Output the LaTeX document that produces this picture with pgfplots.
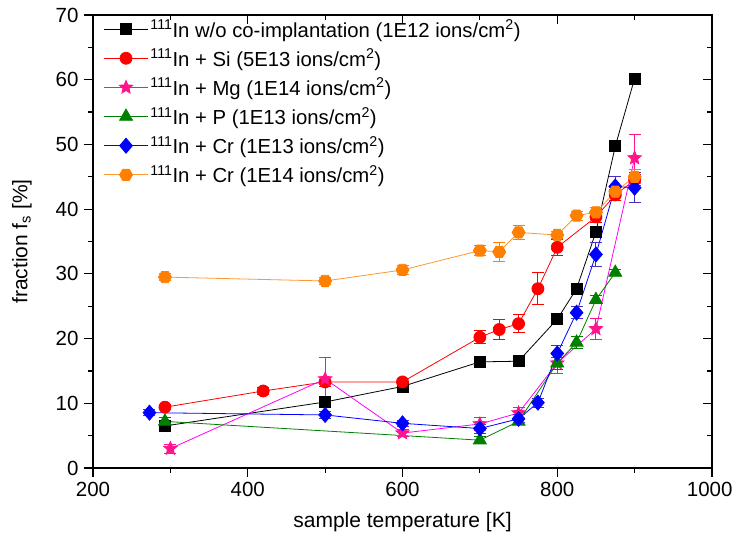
\documentclass[border=0pt]{standalone}
\usepackage{fontspec}
\setmainfont{Liberation Sans}
\usepackage{pgfplots}
\pgfplotsset{compat=1.18}

\definecolor{cpink}{RGB}{255,20,140}
\definecolor{cmag}{RGB}{255,0,255}
\definecolor{cgreen}{RGB}{0,128,0}
\definecolor{cblue}{RGB}{0,0,255}
\definecolor{cblueerr}{RGB}{70,50,190}
\definecolor{corange}{RGB}{255,128,0}
\definecolor{corangel}{RGB}{255,150,50}

\pgfdeclareplotmark{hexagon*}{%
  \pgfpathmoveto{\pgfpointpolar{0}{\pgfplotmarksize}}%
  \pgfpathlineto{\pgfpointpolar{60}{\pgfplotmarksize}}%
  \pgfpathlineto{\pgfpointpolar{120}{\pgfplotmarksize}}%
  \pgfpathlineto{\pgfpointpolar{180}{\pgfplotmarksize}}%
  \pgfpathlineto{\pgfpointpolar{240}{\pgfplotmarksize}}%
  \pgfpathlineto{\pgfpointpolar{300}{\pgfplotmarksize}}%
  \pgfpathclose
  \pgfusepathqfillstroke
}
\pgfdeclareplotmark{fstar}{%
  \pgfpathmoveto{\pgfpointpolar{90}{\pgfplotmarksize}}%
  \pgfpathlineto{\pgfpointpolar{126}{0.45\pgfplotmarksize}}%
  \pgfpathlineto{\pgfpointpolar{162}{\pgfplotmarksize}}%
  \pgfpathlineto{\pgfpointpolar{198}{0.45\pgfplotmarksize}}%
  \pgfpathlineto{\pgfpointpolar{234}{\pgfplotmarksize}}%
  \pgfpathlineto{\pgfpointpolar{270}{0.45\pgfplotmarksize}}%
  \pgfpathlineto{\pgfpointpolar{306}{\pgfplotmarksize}}%
  \pgfpathlineto{\pgfpointpolar{342}{0.45\pgfplotmarksize}}%
  \pgfpathlineto{\pgfpointpolar{18}{\pgfplotmarksize}}%
  \pgfpathlineto{\pgfpointpolar{54}{0.45\pgfplotmarksize}}%
  \pgfpathclose
  \pgfusepathqfillstroke
}
\pgfdeclareplotmark{fdiamond}{%
  \pgfpathmoveto{\pgfqpoint{0pt}{\pgfplotmarksize}}%
  \pgfpathlineto{\pgfqpoint{-0.85\pgfplotmarksize}{0pt}}%
  \pgfpathlineto{\pgfqpoint{0pt}{-\pgfplotmarksize}}%
  \pgfpathlineto{\pgfqpoint{0.85\pgfplotmarksize}{0pt}}%
  \pgfpathclose
  \pgfusepathqfillstroke
}

\begin{document}
\begin{tikzpicture}
\path[use as bounding box] (-93pt,-69pt) rectangle (640pt,468pt);
\begin{axis}[
  at={(0pt,0pt)}, anchor=south west,
  scale only axis, width=619pt, height=453pt,
  xmin=200, xmax=1000, ymin=0, ymax=70,
  xtick={200,400,...,1000}, minor xtick={300,500,700,900},
  xticklabels={200,400,600,800,\hspace*{-4.5pt}1000},
  ytick={0,10,...,70}, minor ytick={5,15,...,65},
  /pgf/number format/assume math mode=true,
  /pgf/number format/1000 sep={},
  tick align=outside, tick pos=left,
  major tick length=9pt, minor tick length=5pt,
  axis line style={line width=1.5pt},
  every tick/.style={black, line width=1.2pt},
  tick label style={font=\fontsize{20.5}{24}\selectfont},
  xticklabel style={yshift=-2pt},
  yticklabel style={xshift=-2pt},
  label style={font=\fontsize{21}{25}\selectfont},
  xlabel={sample temperature [K]},
  ylabel={fraction f\textsubscript{s} [\%]},
  xlabel style={at={(axis description cs:0.5,-0.1192)}, anchor=center},
  ylabel style={at={(axis description cs:-0.1147,0.5)}, anchor=center},
  legend cell align=left,
  legend style={draw=none, fill=none, at={(axis description cs:0.012,0.999)}, anchor=north west,
    font=\fontsize{20.3}{24}\selectfont, row sep=6.2pt,
    nodes={inner sep=2pt}},
  legend image code/.code={\draw[mark repeat=2,mark phase=2] plot coordinates {(0pt,0pt) (22pt,0pt) (44pt,0pt)};},
  error bars/error bar style={line width=0.9pt},
  error bars/error mark options={rotate=90, mark size=6pt, line width=0.9pt},
]
% black
\addplot[black, line width=0.8pt, mark=square*, mark size=5.5pt, mark options={solid},
  error bars/.cd, y dir=both, y explicit]
  coordinates {(293,6.5)+-(0,0.5) (500,10.2)+-(0,0.5) (600,12.6)+-(0,0.6) (700,16.4)+-(0,0.5)
   (750,16.5)+-(0,0.4) (800,23.0)+-(0,0.6) (825,27.7)+-(0,0.4) (850,36.5)+-(0,0.5)
   (875,49.7)+-(0,0.5) (900,60.2)+-(0,0.5)};
\addlegendentry{\textsuperscript{111}In w/o co-implantation (1E12 ions/cm\textsuperscript{2})}
% red
\addplot[red, line width=0.8pt, mark=*, mark size=6pt,
  error bars/.cd, y dir=both, y explicit]
  coordinates {(293,9.4)+-(0,0.4) (420,11.9)+-(0,0.5) (500,13.3)+-(0,0.7) (600,13.3)+-(0,0.5)
   (700,20.2)+-(0,1.0) (725,21.4)+-(0,1.6) (750,22.3)+-(0,1.35) (775,27.7)+-(0,2.5)
   (800,34.1)+-(0,1.2) (850,38.8)+-(0,0.8) (875,42.2)+-(0,0.8) (900,44.5)+-(0,0.8)};
\addlegendentry{\textsuperscript{111}In + Si (5E13 ions/cm\textsuperscript{2})}
% magenta
\addplot[cmag, line width=0.8pt, mark=fstar, mark size=7pt, mark options={cpink},
  error bars/.cd, y dir=both, y explicit, error bar style={cpink, line width=0.9pt},
  error mark options={cpink, rotate=90, mark size=6pt, line width=0.9pt}]
  coordinates {(300,3.0)+-(0,0.7) (500,13.75)+-(0,3.35) (600,5.4)+-(0,0.5) (700,6.8)+-(0,1.0)
   (750,8.5)+-(0,0.9) (800,16.2)+-(0,1.6) (850,21.5)+-(0,1.6) (900,47.9)+-(0,3.7)};
\addlegendentry{\textsuperscript{111}In + Mg (1E14 ions/cm\textsuperscript{2})}
% green
\addplot[cgreen, line width=0.8pt, mark=triangle*, mark size=7.5pt,
  error bars/.cd, y dir=both, y explicit]
  coordinates {(293,7.2)+-(0,0.6) (700,4.3)+-(0,0.5) (750,7.2)+-(0,0.5) (800,16.2)+-(0,0.9)
   (825,19.4)+-(0,1.0) (850,26.0)+-(0,0.6) (875,30.2)+-(0,0.5)};
\addlegendentry{\textsuperscript{111}In + P (1E13 ions/cm\textsuperscript{2})}
% blue
\addplot[cblue, line width=0.8pt, mark=fdiamond, mark size=7.5pt,
  error bars/.cd, y dir=both, y explicit, error bar style={cblueerr, line width=0.9pt},
  error mark options={cblueerr, rotate=90, mark size=6pt, line width=0.9pt}]
  coordinates {(273,8.55)+-(0,0.5) (500,8.2)+-(0,0.5) (600,6.9)+-(0,0.5) (700,6.1)+-(0,0.7)
   (750,7.6)+-(0,0.6) (775,10.1)+-(0,0.7) (800,17.7)+-(0,1.2) (825,24.0)+-(0,0.9)
   (850,33.0)+-(0,1.8) (875,43.5)+-(0,1.5) (900,43.3)+-(0,2.3)};
\addlegendentry{\textsuperscript{111}In + Cr (1E13 ions/cm\textsuperscript{2})}
% orange
\addplot[corangel, line width=0.8pt, mark=hexagon*, mark size=6.5pt, mark options={corange},
  error bars/.cd, y dir=both, y explicit, error bar style={corange, line width=0.9pt},
  error mark options={corange, rotate=90, mark size=6pt, line width=0.9pt}]
  coordinates {(293,29.5)+-(0,0.5) (500,28.9)+-(0,0.5) (600,30.6)+-(0,0.7) (700,33.6)+-(0,0.8)
   (725,33.4)+-(0,1.5) (750,36.4)+-(0,1.1) (800,36.0)+-(0,0.6) (825,39.0)+-(0,0.7)
   (850,39.5)+-(0,0.8) (875,42.7)+-(0,0.8) (900,45.0)+-(0,1.1)};
\addlegendentry{\textsuperscript{111}In + Cr (1E14 ions/cm\textsuperscript{2})}
\end{axis}
\begin{axis}[
  at={(0pt,0pt)}, anchor=south west,
  scale only axis, width=619pt, height=453pt,
  xmin=200, xmax=1000, ymin=0, ymax=70,
  xtick={200,400,...,1000}, minor xtick={300,500,700,900},
  ytick={0,10,...,70}, minor ytick={5,15,...,65},
  xticklabels={}, yticklabels={},
  tick align=inside, tick pos=right,
  major tick length=9pt, minor tick length=5pt,
  axis line style={line width=1.5pt},
  every tick/.style={black, line width=1.2pt},
]
\end{axis}
\end{tikzpicture}
\end{document}
